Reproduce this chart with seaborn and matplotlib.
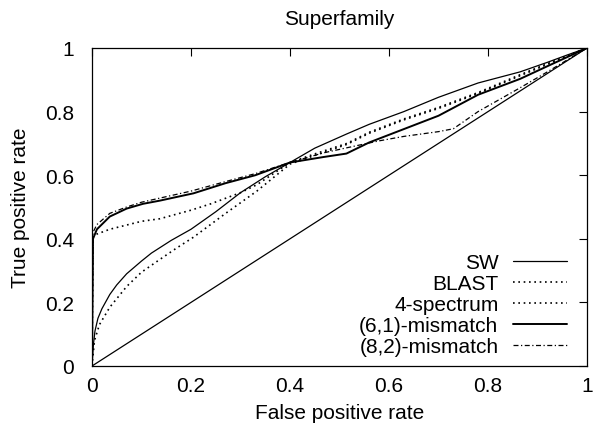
import matplotlib
matplotlib.use("Agg")
import matplotlib.pyplot as plt
import seaborn as sns
import pandas as pd

# ---- data ----
sw_x = [0, 0.003, 0.006, 0.012, 0.02, 0.036, 0.05, 0.07, 0.1, 0.12, 0.16, 0.2, 0.25, 0.3, 0.35, 0.4, 0.45, 0.515, 0.56, 0.63, 0.7, 0.78, 0.865, 0.92, 0.96, 1]
sw_y = [0, 0.07, 0.11, 0.15, 0.18, 0.225, 0.255, 0.29, 0.33, 0.355, 0.395, 0.43, 0.485, 0.545, 0.595, 0.64, 0.685, 0.73, 0.76, 0.80, 0.845, 0.89, 0.925, 0.955, 0.978, 1]

blast_x = [0, 0.005, 0.015, 0.036, 0.07, 0.1, 0.137, 0.17, 0.205, 0.27, 0.333, 0.4, 0.45, 0.515, 0.56, 0.63, 0.7, 0.78, 0.865, 0.93, 1]
blast_y = [0, 0.08, 0.13, 0.185, 0.25, 0.295, 0.335, 0.37, 0.405, 0.48, 0.55, 0.635, 0.662, 0.697, 0.732, 0.774, 0.81, 0.857, 0.913, 0.955, 1]

spec_x = [0, 0.002, 0.01, 0.036, 0.1, 0.137, 0.2, 0.24, 0.3, 0.333, 0.4, 0.45, 0.515, 0.56, 0.63, 0.7, 0.78, 0.865, 0.93, 1]
spec_y = [0, 0.405, 0.415, 0.43, 0.455, 0.463, 0.49, 0.51, 0.545, 0.57, 0.64, 0.667, 0.70, 0.735, 0.777, 0.813, 0.86, 0.916, 0.957, 1]

m61_x = [0, 0.002, 0.01, 0.036, 0.07, 0.103, 0.137, 0.205, 0.27, 0.33, 0.4, 0.467, 0.514, 0.56, 0.63, 0.7, 0.78, 0.865, 0.93, 1]
m61_y = [0, 0.40, 0.43, 0.47, 0.495, 0.51, 0.52, 0.543, 0.575, 0.60, 0.64, 0.657, 0.668, 0.703, 0.745, 0.787, 0.853, 0.903, 0.95, 1]

m82_x = [0, 0.002, 0.01, 0.036, 0.07, 0.1, 0.2, 0.27, 0.33, 0.4, 0.467, 0.535, 0.58, 0.63, 0.7, 0.73, 0.78, 0.865, 0.92, 1]
m82_y = [0, 0.42, 0.445, 0.48, 0.50, 0.515, 0.55, 0.58, 0.605, 0.64, 0.67, 0.693, 0.708, 0.722, 0.737, 0.746, 0.80, 0.875, 0.925, 1]

diag_x = [0, 1]
diag_y = [0, 1]

labels = ["SW", "BLAST", "4-spectrum", "(6,1)-mismatch", "(8,2)-mismatch"]
tick_vals = [0, 0.2, 0.4, 0.6, 0.8, 1]
tick_labels = ["0", "0.2", "0.4", "0.6", "0.8", "1"]

# ---- style ----
sns.set_theme(style="white", rc={"text.color": "black", "axes.labelcolor": "black",
                                 "xtick.color": "black", "ytick.color": "black",
                                 "axes.edgecolor": "black"})
plt.rcParams["font.family"] = ["Liberation Sans", "DejaVu Sans"]
FS = 15

fig = plt.figure(figsize=(5.94, 4.31), dpi=100)
W, H = 594, 431
ax = fig.add_axes([92 / W, 1 - 367 / H, 495 / W, 318 / H])

series = [
    (sw_x, sw_y, labels[0], "-", 0.9),
    (blast_x, blast_y, labels[1], (0, (1, 2.2)), 1.2),
    (spec_x, spec_y, labels[2], (0, (1, 2.2)), 1.2),
    (m61_x, m61_y, labels[3], "-", 1.4),
    (m82_x, m82_y, labels[4], (0, (4, 2, 1, 2)), 0.9),
]
for xs, ys, lab, ls, lw in series:
    df = pd.DataFrame({"fpr": xs, "tpr": ys})
    sns.lineplot(data=df, x="fpr", y="tpr", ax=ax, color="black",
                 linestyle=ls, linewidth=lw, label=lab, sort=False,
                 estimator=None)

ddf = pd.DataFrame({"fpr": diag_x, "tpr": diag_y})
sns.lineplot(data=ddf, x="fpr", y="tpr", ax=ax, color="black", linewidth=0.9,
             legend=False, sort=False, estimator=None)

ax.set_xlim(0, 1)
ax.set_ylim(0, 1)
ax.set_xticks(tick_vals)
ax.set_xticklabels(tick_labels)
ax.set_yticks(tick_vals)
ax.set_yticklabels(tick_labels)
ax.tick_params(axis="both", which="major", direction="in", length=6, width=0.8,
               top=True, right=True, labelsize=FS, colors="black")
ax.tick_params(axis="x", pad=7)
ax.tick_params(axis="y", pad=13)
for sp in ax.spines.values():
    sp.set_visible(True)
    sp.set_color("black")
    sp.set_linewidth(0.9)

ax.set_xlabel("False positive rate", fontsize=FS, color="black")
ax.set_ylabel("True positive rate", fontsize=FS, color="black")
ax.xaxis.set_label_coords(0.5, -0.115)
ax.yaxis.set_label_coords(-0.125, 0.5)
ax.set_title("Superfamily", fontsize=FS, color="black", pad=17)

leg = ax.legend(loc="lower right", bbox_to_anchor=(0.96, 0.03), frameon=False,
                markerfirst=False, fontsize=FS, handlelength=2.6,
                handletextpad=0.7, labelspacing=0.1, borderpad=0,
                borderaxespad=0)
for t in leg.get_texts():
    t.set_color("black")

fig.savefig("out.png", dpi=100)
